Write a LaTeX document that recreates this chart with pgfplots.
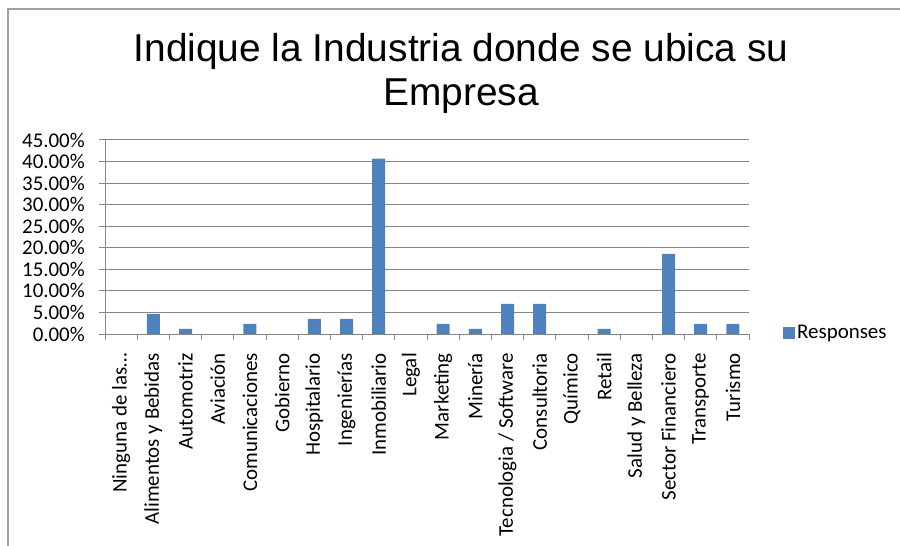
\documentclass[border=0pt]{standalone}
\usepackage{pgfplots}
\pgfplotsset{compat=1.18}
\usepackage{pgfplotstable}
\usepackage{fontspec}
\setmainfont{Carlito}
\newfontfamily\titlefont{Liberation Sans}
\definecolor{barblue}{HTML}{4F81BD}
\definecolor{gridgray}{HTML}{868686}
\definecolor{framegray}{HTML}{A0A0A0}

% share of responses (%) per industry, in chart order
\pgfplotstableread{
idx value
0  0
1  4.65
2  1.16
3  0
4  2.33
5  0
6  3.49
7  3.49
8  40.70
9  0
10 2.33
11 1.16
12 6.98
13 6.98
14 0
15 1.16
16 0
17 18.60
18 2.33
19 2.33
}\industrydata

\begin{document}
\begin{tikzpicture}
\path[use as bounding box] (0bp,0bp) rectangle (900bp,546bp);
\draw[framegray, line width=1.3bp] (8bp,0bp) -- (8bp,537bp) -- (900bp,537bp);
\node[font=\titlefont\fontsize{39}{44}\selectfont, anchor=base, inner sep=0pt] at (461bp,484bp) {Indique la Industria donde se ubica su};
\node[font=\titlefont\fontsize{39}{44}\selectfont, anchor=base, inner sep=0pt] at (461bp,440bp) {Empresa};
\begin{axis}[
  at={(105bp,212bp)}, anchor=south west,
  scale only axis, width=644bp, height=194bp,
  xmin=-0.5, xmax=19.5, ymin=0, ymax=45,
  axis lines*=left,
  axis line style={gridgray, line width=1bp},
  ymajorgrids, grid style={gridgray, line width=1bp},
  ytick={0,5,...,45},
  /pgf/number format/assume math mode=true,
  yticklabel={\pgfmathprintnumber[fixed,fixed zerofill,precision=2]{\tick}\%},
  yticklabel style={font=\fontsize{21}{21}\selectfont, anchor=east, inner sep=0pt, xshift=-14bp},
  major tick length=6bp, tick align=outside,
  tick style={gridgray, line width=1bp},
  xtick={-0.5,0.5,...,19.5},
  xticklabels={},
  extra x ticks={0,1,...,19},
  extra x tick labels={Ninguna de las…,Alimentos y Bebidas,Automotriz,Aviación,Comunicaciones,Gobierno,Hospitalario,Ingenierías,Inmobiliario,Legal,Marketing,Minería,Tecnologia / Software,Consultoria,Químico,Retail,Salud y Belleza,Sector Financiero,Transporte,Turismo},
  extra x tick style={tick style={draw=none}, grid=none},
  xticklabel style={font=\fontsize{21}{21}\selectfont, yshift=-13bp, rotate=90, anchor=east, inner sep=0pt},
  legend style={draw=none, fill=none, at={(1.0528,0.005)}, anchor=west, inner sep=0pt, font=\fontsize{21}{21}\selectfont},
  legend image code/.code={\fill[barblue] (0bp,-6bp) rectangle (12bp,6bp);},
]
\addplot[ybar, bar width=13bp, fill=barblue, draw=none] table[x=idx, y=value] {\industrydata};
\addlegendentry{Responses}
\end{axis}
\end{tikzpicture}
\end{document}
